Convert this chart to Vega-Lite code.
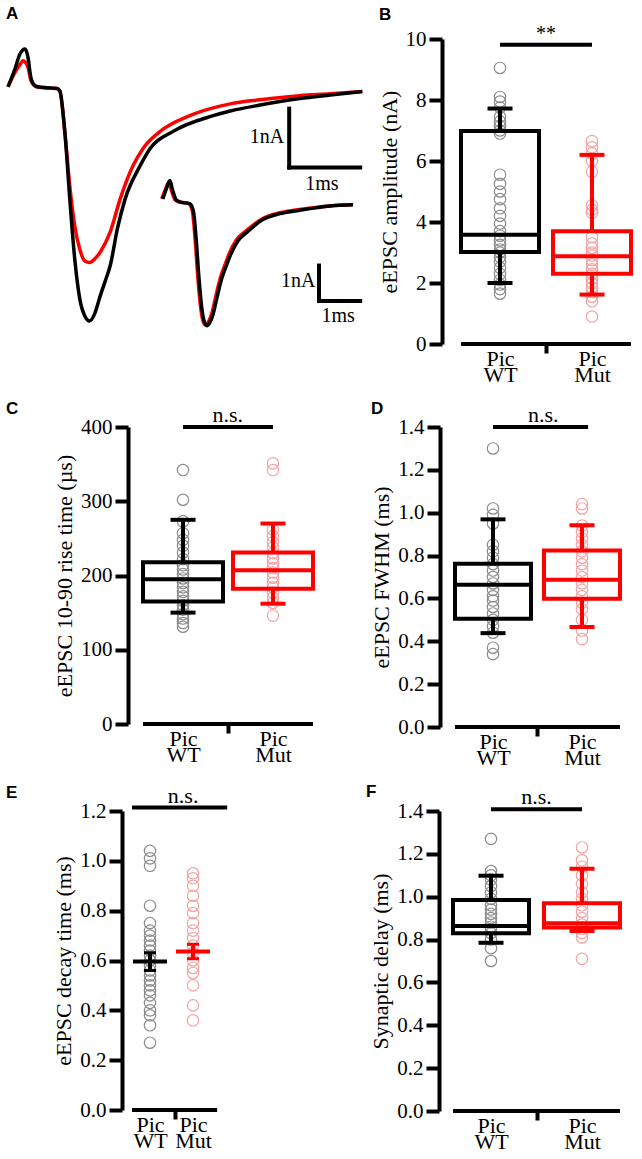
{
  "background": "white",
  "padding": {"left": 6, "top": 5, "right": 0, "bottom": 0},
  "config": {
    "view": {"stroke": null},
    "title": {"font": "Liberation Sans", "fontSize": 17, "fontWeight": "bold", "anchor": "start", "frame": "group", "color": "#000"},
    "axisY": {"domainColor": "#000", "domainWidth": 4, "tickColor": "#000", "tickWidth": 4, "tickSize": 13, "labelFont": "Liberation Serif", "labelFontSize": 21, "labelColor": "#000", "labelPadding": 3, "labelFlush": false, "labelOverlap": false, "titleFont": "Liberation Serif", "titleFontSize": 22, "titleFontWeight": "normal", "titleColor": "#000", "titlePadding": 4, "grid": false},
    "axisX": {"domain": false, "grid": false, "ticks": true, "tickSize": 9, "tickWidth": 4, "labelFont": "Liberation Serif", "labelFontSize": 22, "labelColor": "#000", "labelAngle": 0, "labelPadding": -5, "labelLineHeight": 16, "labelExpr": "split(datum.label, ' ')", "title": null}
  },
  "datasets": {
    "traces": [
      {"tr":"big","g":"WT","t":-1.69,"i":0},{"tr":"big","g":"WT","t":-1.59,"i":0.31},{"tr":"big","g":"WT","t":-1.52,"i":0.56},{"tr":"big","g":"WT","t":-1.45,"i":0.64},{"tr":"big","g":"WT","t":-1.41,"i":0.51},{"tr":"big","g":"WT","t":-1.37,"i":0.17},{"tr":"big","g":"WT","t":-1.32,"i":0.03},{"tr":"big","g":"WT","t":-1.27,"i":0},{"tr":"big","g":"WT","t":-1.0,"i":-0.03},{"tr":"big","g":"WT","t":-0.96,"i":-0.07},{"tr":"big","g":"WT","t":-0.89,"i":-0.76},{"tr":"big","g":"WT","t":-0.82,"i":-1.9},{"tr":"big","g":"WT","t":-0.75,"i":-2.92},{"tr":"big","g":"WT","t":-0.68,"i":-3.59},{"tr":"big","g":"WT","t":-0.61,"i":-3.88},{"tr":"big","g":"WT","t":-0.54,"i":-3.97},{"tr":"big","g":"WT","t":-0.47,"i":-3.85},{"tr":"big","g":"WT","t":-0.39,"i":-3.54},{"tr":"big","g":"WT","t":-0.32,"i":-3.29},{"tr":"big","g":"WT","t":-0.25,"i":-3.03},{"tr":"big","g":"WT","t":-0.15,"i":-2.41},{"tr":"big","g":"WT","t":-0.04,"i":-1.9},{"tr":"big","g":"WT","t":0.17,"i":-1.34},{"tr":"big","g":"WT","t":0.31,"i":-1.05},{"tr":"big","g":"WT","t":0.63,"i":-0.76},{"tr":"big","g":"WT","t":1.2,"i":-0.49},{"tr":"big","g":"WT","t":1.44,"i":-0.41},{"tr":"big","g":"WT","t":1.86,"i":-0.31},{"tr":"big","g":"WT","t":2.42,"i":-0.2},{"tr":"big","g":"WT","t":2.85,"i":-0.14},{"tr":"big","g":"WT","t":3.3,"i":-0.08},
      {"tr":"big","g":"Mut","t":-1.69,"i":0},{"tr":"big","g":"Mut","t":-1.59,"i":0.25},{"tr":"big","g":"Mut","t":-1.52,"i":0.38},{"tr":"big","g":"Mut","t":-1.48,"i":0.44},{"tr":"big","g":"Mut","t":-1.41,"i":0.34},{"tr":"big","g":"Mut","t":-1.37,"i":0.12},{"tr":"big","g":"Mut","t":-1.32,"i":0.02},{"tr":"big","g":"Mut","t":-1.27,"i":-0.01},{"tr":"big","g":"Mut","t":-1.0,"i":-0.03},{"tr":"big","g":"Mut","t":-0.96,"i":-0.07},{"tr":"big","g":"Mut","t":-0.89,"i":-0.76},{"tr":"big","g":"Mut","t":-0.82,"i":-1.68},{"tr":"big","g":"Mut","t":-0.75,"i":-2.36},{"tr":"big","g":"Mut","t":-0.68,"i":-2.75},{"tr":"big","g":"Mut","t":-0.61,"i":-2.95},{"tr":"big","g":"Mut","t":-0.54,"i":-2.98},{"tr":"big","g":"Mut","t":-0.47,"i":-2.92},{"tr":"big","g":"Mut","t":-0.39,"i":-2.8},{"tr":"big","g":"Mut","t":-0.25,"i":-2.46},{"tr":"big","g":"Mut","t":-0.11,"i":-1.9},{"tr":"big","g":"Mut","t":0.07,"i":-1.34},{"tr":"big","g":"Mut","t":0.21,"i":-1.05},{"tr":"big","g":"Mut","t":0.45,"i":-0.76},{"tr":"big","g":"Mut","t":0.87,"i":-0.49},{"tr":"big","g":"Mut","t":1.44,"i":-0.29},{"tr":"big","g":"Mut","t":1.86,"i":-0.22},{"tr":"big","g":"Mut","t":2.42,"i":-0.15},{"tr":"big","g":"Mut","t":2.85,"i":-0.12},{"tr":"big","g":"Mut","t":3.3,"i":-0.08},
      {"tr":"small","g":"WT","t":0.49,"i":-1.9},{"tr":"small","g":"WT","t":0.54,"i":-1.73},{"tr":"small","g":"WT","t":0.59,"i":-1.59},{"tr":"small","g":"WT","t":0.63,"i":-1.76},{"tr":"small","g":"WT","t":0.68,"i":-1.92},{"tr":"small","g":"WT","t":0.73,"i":-1.95},{"tr":"small","g":"WT","t":0.87,"i":-1.98},{"tr":"small","g":"WT","t":0.92,"i":-2.1},{"tr":"small","g":"WT","t":0.96,"i":-2.58},{"tr":"small","g":"WT","t":1.0,"i":-3.25},{"tr":"small","g":"WT","t":1.04,"i":-3.76},{"tr":"small","g":"WT","t":1.08,"i":-4.0},{"tr":"small","g":"WT","t":1.11,"i":-4.05},{"tr":"small","g":"WT","t":1.15,"i":-4.0},{"tr":"small","g":"WT","t":1.2,"i":-3.85},{"tr":"small","g":"WT","t":1.25,"i":-3.59},{"tr":"small","g":"WT","t":1.32,"i":-3.25},{"tr":"small","g":"WT","t":1.38,"i":-3.05},{"tr":"small","g":"WT","t":1.44,"i":-2.86},{"tr":"small","g":"WT","t":1.55,"i":-2.61},{"tr":"small","g":"WT","t":1.68,"i":-2.46},{"tr":"small","g":"WT","t":1.9,"i":-2.25},{"tr":"small","g":"WT","t":2.14,"i":-2.15},{"tr":"small","g":"WT","t":2.38,"i":-2.1},{"tr":"small","g":"WT","t":2.85,"i":-2.02},{"tr":"small","g":"WT","t":3.17,"i":-2.0},
      {"tr":"small","g":"Mut","t":0.475,"i":-1.9},{"tr":"small","g":"Mut","t":0.525,"i":-1.75},{"tr":"small","g":"Mut","t":0.575,"i":-1.62},{"tr":"small","g":"Mut","t":0.615,"i":-1.77},{"tr":"small","g":"Mut","t":0.665,"i":-1.92},{"tr":"small","g":"Mut","t":0.715,"i":-1.95},{"tr":"small","g":"Mut","t":0.855,"i":-1.98},{"tr":"small","g":"Mut","t":0.905,"i":-2.1},{"tr":"small","g":"Mut","t":0.945,"i":-2.58},{"tr":"small","g":"Mut","t":0.985,"i":-3.25},{"tr":"small","g":"Mut","t":1.025,"i":-3.76},{"tr":"small","g":"Mut","t":1.065,"i":-4.0},{"tr":"small","g":"Mut","t":1.095,"i":-4.04},{"tr":"small","g":"Mut","t":1.135,"i":-3.98},{"tr":"small","g":"Mut","t":1.185,"i":-3.82},{"tr":"small","g":"Mut","t":1.235,"i":-3.56},{"tr":"small","g":"Mut","t":1.305,"i":-3.22},{"tr":"small","g":"Mut","t":1.365,"i":-3.02},{"tr":"small","g":"Mut","t":1.425,"i":-2.83},{"tr":"small","g":"Mut","t":1.535,"i":-2.58},{"tr":"small","g":"Mut","t":1.665,"i":-2.44},{"tr":"small","g":"Mut","t":1.885,"i":-2.24},{"tr":"small","g":"Mut","t":2.125,"i":-2.14},{"tr":"small","g":"Mut","t":2.365,"i":-2.09},{"tr":"small","g":"Mut","t":2.835,"i":-2.02},{"tr":"small","g":"Mut","t":3.155,"i":-2.0}
    ],
    "scalebars": [
      {"t1":2.27,"t2":2.27,"i1":-0.37,"i2":-1.37},
      {"t1":2.27,"t2":3.27,"i1":-1.37,"i2":-1.37},
      {"t1":2.69,"t2":2.69,"i1":-3.03,"i2":-3.63},
      {"t1":2.69,"t2":3.27,"i1":-3.63,"i2":-3.63}
    ],
    "barlabels": [
      {"k":"nA","t":2.2,"i":-0.85,"label":"1nA"},
      {"k":"ms","t":2.73,"i":-1.64,"label":"1ms"},
      {"k":"nA","t":2.64,"i":-3.29,"label":"1nA"},
      {"k":"ms","t":2.96,"i":-3.88,"label":"1ms"}
    ],
    "points": [
      {"p":"B","g":"Pic WT","v":9.05},{"p":"B","g":"Pic WT","v":8.1},{"p":"B","g":"Pic WT","v":7.95},{"p":"B","g":"Pic WT","v":7.75},{"p":"B","g":"Pic WT","v":7.45},{"p":"B","g":"Pic WT","v":7.3},{"p":"B","g":"Pic WT","v":7.15},{"p":"B","g":"Pic WT","v":7.0},{"p":"B","g":"Pic WT","v":6.9},{"p":"B","g":"Pic WT","v":5.55},{"p":"B","g":"Pic WT","v":5.25},{"p":"B","g":"Pic WT","v":5.0},{"p":"B","g":"Pic WT","v":4.75},{"p":"B","g":"Pic WT","v":4.45},{"p":"B","g":"Pic WT","v":4.2},{"p":"B","g":"Pic WT","v":3.95},{"p":"B","g":"Pic WT","v":3.7},{"p":"B","g":"Pic WT","v":3.55},{"p":"B","g":"Pic WT","v":3.4},{"p":"B","g":"Pic WT","v":3.25},{"p":"B","g":"Pic WT","v":3.1},{"p":"B","g":"Pic WT","v":3.0},{"p":"B","g":"Pic WT","v":2.85},{"p":"B","g":"Pic WT","v":2.7},{"p":"B","g":"Pic WT","v":2.5},{"p":"B","g":"Pic WT","v":2.3},{"p":"B","g":"Pic WT","v":2.1},{"p":"B","g":"Pic WT","v":1.95},{"p":"B","g":"Pic WT","v":1.8},{"p":"B","g":"Pic WT","v":1.65},
      {"p":"B","g":"Pic Mut","v":6.65},{"p":"B","g":"Pic Mut","v":6.45},{"p":"B","g":"Pic Mut","v":6.25},{"p":"B","g":"Pic Mut","v":6.0},{"p":"B","g":"Pic Mut","v":5.65},{"p":"B","g":"Pic Mut","v":4.55},{"p":"B","g":"Pic Mut","v":4.4},{"p":"B","g":"Pic Mut","v":4.3},{"p":"B","g":"Pic Mut","v":3.5},{"p":"B","g":"Pic Mut","v":3.3},{"p":"B","g":"Pic Mut","v":3.15},{"p":"B","g":"Pic Mut","v":3.0},{"p":"B","g":"Pic Mut","v":2.9},{"p":"B","g":"Pic Mut","v":2.75},{"p":"B","g":"Pic Mut","v":2.6},{"p":"B","g":"Pic Mut","v":2.45},{"p":"B","g":"Pic Mut","v":2.3},{"p":"B","g":"Pic Mut","v":2.15},{"p":"B","g":"Pic Mut","v":2.0},{"p":"B","g":"Pic Mut","v":1.85},{"p":"B","g":"Pic Mut","v":1.7},{"p":"B","g":"Pic Mut","v":1.55},{"p":"B","g":"Pic Mut","v":1.4},{"p":"B","g":"Pic Mut","v":0.9},
      {"p":"C","g":"Pic WT","v":342},{"p":"C","g":"Pic WT","v":302},{"p":"C","g":"Pic WT","v":273},{"p":"C","g":"Pic WT","v":257},{"p":"C","g":"Pic WT","v":248},{"p":"C","g":"Pic WT","v":240},{"p":"C","g":"Pic WT","v":231},{"p":"C","g":"Pic WT","v":222},{"p":"C","g":"Pic WT","v":214},{"p":"C","g":"Pic WT","v":208},{"p":"C","g":"Pic WT","v":202},{"p":"C","g":"Pic WT","v":196},{"p":"C","g":"Pic WT","v":190},{"p":"C","g":"Pic WT","v":184},{"p":"C","g":"Pic WT","v":178},{"p":"C","g":"Pic WT","v":172},{"p":"C","g":"Pic WT","v":166},{"p":"C","g":"Pic WT","v":160},{"p":"C","g":"Pic WT","v":154},{"p":"C","g":"Pic WT","v":148},{"p":"C","g":"Pic WT","v":142},{"p":"C","g":"Pic WT","v":136},{"p":"C","g":"Pic WT","v":131},
      {"p":"C","g":"Pic Mut","v":351},{"p":"C","g":"Pic Mut","v":342},{"p":"C","g":"Pic Mut","v":262},{"p":"C","g":"Pic Mut","v":253},{"p":"C","g":"Pic Mut","v":245},{"p":"C","g":"Pic Mut","v":238},{"p":"C","g":"Pic Mut","v":230},{"p":"C","g":"Pic Mut","v":223},{"p":"C","g":"Pic Mut","v":216},{"p":"C","g":"Pic Mut","v":210},{"p":"C","g":"Pic Mut","v":204},{"p":"C","g":"Pic Mut","v":197},{"p":"C","g":"Pic Mut","v":190},{"p":"C","g":"Pic Mut","v":184},{"p":"C","g":"Pic Mut","v":177},{"p":"C","g":"Pic Mut","v":170},{"p":"C","g":"Pic Mut","v":163},{"p":"C","g":"Pic Mut","v":146},
      {"p":"D","g":"Pic WT","v":1.30},{"p":"D","g":"Pic WT","v":1.02},{"p":"D","g":"Pic WT","v":0.99},{"p":"D","g":"Pic WT","v":0.95},{"p":"D","g":"Pic WT","v":0.85},{"p":"D","g":"Pic WT","v":0.82},{"p":"D","g":"Pic WT","v":0.79},{"p":"D","g":"Pic WT","v":0.76},{"p":"D","g":"Pic WT","v":0.73},{"p":"D","g":"Pic WT","v":0.70},{"p":"D","g":"Pic WT","v":0.67},{"p":"D","g":"Pic WT","v":0.64},{"p":"D","g":"Pic WT","v":0.61},{"p":"D","g":"Pic WT","v":0.59},{"p":"D","g":"Pic WT","v":0.56},{"p":"D","g":"Pic WT","v":0.53},{"p":"D","g":"Pic WT","v":0.50},{"p":"D","g":"Pic WT","v":0.47},{"p":"D","g":"Pic WT","v":0.44},{"p":"D","g":"Pic WT","v":0.37},{"p":"D","g":"Pic WT","v":0.34},
      {"p":"D","g":"Pic Mut","v":1.04},{"p":"D","g":"Pic Mut","v":1.02},{"p":"D","g":"Pic Mut","v":0.94},{"p":"D","g":"Pic Mut","v":0.91},{"p":"D","g":"Pic Mut","v":0.88},{"p":"D","g":"Pic Mut","v":0.85},{"p":"D","g":"Pic Mut","v":0.82},{"p":"D","g":"Pic Mut","v":0.79},{"p":"D","g":"Pic Mut","v":0.76},{"p":"D","g":"Pic Mut","v":0.73},{"p":"D","g":"Pic Mut","v":0.70},{"p":"D","g":"Pic Mut","v":0.67},{"p":"D","g":"Pic Mut","v":0.64},{"p":"D","g":"Pic Mut","v":0.61},{"p":"D","g":"Pic Mut","v":0.58},{"p":"D","g":"Pic Mut","v":0.55},{"p":"D","g":"Pic Mut","v":0.50},{"p":"D","g":"Pic Mut","v":0.45},{"p":"D","g":"Pic Mut","v":0.41},
      {"p":"E","g":"Pic WT","v":1.04},{"p":"E","g":"Pic WT","v":1.01},{"p":"E","g":"Pic WT","v":0.98},{"p":"E","g":"Pic WT","v":0.82},{"p":"E","g":"Pic WT","v":0.75},{"p":"E","g":"Pic WT","v":0.72},{"p":"E","g":"Pic WT","v":0.70},{"p":"E","g":"Pic WT","v":0.68},{"p":"E","g":"Pic WT","v":0.66},{"p":"E","g":"Pic WT","v":0.64},{"p":"E","g":"Pic WT","v":0.62},{"p":"E","g":"Pic WT","v":0.60},{"p":"E","g":"Pic WT","v":0.58},{"p":"E","g":"Pic WT","v":0.56},{"p":"E","g":"Pic WT","v":0.54},{"p":"E","g":"Pic WT","v":0.52},{"p":"E","g":"Pic WT","v":0.50},{"p":"E","g":"Pic WT","v":0.48},{"p":"E","g":"Pic WT","v":0.46},{"p":"E","g":"Pic WT","v":0.43},{"p":"E","g":"Pic WT","v":0.40},{"p":"E","g":"Pic WT","v":0.38},{"p":"E","g":"Pic WT","v":0.34},{"p":"E","g":"Pic WT","v":0.27},
      {"p":"E","g":"Pic Mut","v":0.95},{"p":"E","g":"Pic Mut","v":0.93},{"p":"E","g":"Pic Mut","v":0.90},{"p":"E","g":"Pic Mut","v":0.86},{"p":"E","g":"Pic Mut","v":0.82},{"p":"E","g":"Pic Mut","v":0.79},{"p":"E","g":"Pic Mut","v":0.75},{"p":"E","g":"Pic Mut","v":0.72},{"p":"E","g":"Pic Mut","v":0.69},{"p":"E","g":"Pic Mut","v":0.66},{"p":"E","g":"Pic Mut","v":0.63},{"p":"E","g":"Pic Mut","v":0.60},{"p":"E","g":"Pic Mut","v":0.57},{"p":"E","g":"Pic Mut","v":0.55},{"p":"E","g":"Pic Mut","v":0.50},{"p":"E","g":"Pic Mut","v":0.42},{"p":"E","g":"Pic Mut","v":0.36},
      {"p":"F","g":"Pic WT","v":1.27},{"p":"F","g":"Pic WT","v":1.12},{"p":"F","g":"Pic WT","v":1.10},{"p":"F","g":"Pic WT","v":1.08},{"p":"F","g":"Pic WT","v":1.05},{"p":"F","g":"Pic WT","v":1.02},{"p":"F","g":"Pic WT","v":0.99},{"p":"F","g":"Pic WT","v":0.96},{"p":"F","g":"Pic WT","v":0.94},{"p":"F","g":"Pic WT","v":0.92},{"p":"F","g":"Pic WT","v":0.90},{"p":"F","g":"Pic WT","v":0.88},{"p":"F","g":"Pic WT","v":0.86},{"p":"F","g":"Pic WT","v":0.85},{"p":"F","g":"Pic WT","v":0.83},{"p":"F","g":"Pic WT","v":0.80},{"p":"F","g":"Pic WT","v":0.76},{"p":"F","g":"Pic WT","v":0.70},
      {"p":"F","g":"Pic Mut","v":1.23},{"p":"F","g":"Pic Mut","v":1.17},{"p":"F","g":"Pic Mut","v":1.14},{"p":"F","g":"Pic Mut","v":1.10},{"p":"F","g":"Pic Mut","v":1.06},{"p":"F","g":"Pic Mut","v":1.02},{"p":"F","g":"Pic Mut","v":0.99},{"p":"F","g":"Pic Mut","v":0.96},{"p":"F","g":"Pic Mut","v":0.93},{"p":"F","g":"Pic Mut","v":0.90},{"p":"F","g":"Pic Mut","v":0.87},{"p":"F","g":"Pic Mut","v":0.85},{"p":"F","g":"Pic Mut","v":0.83},{"p":"F","g":"Pic Mut","v":0.81},{"p":"F","g":"Pic Mut","v":0.71}
    ],
    "boxes": [
      {"p":"B","g":"Pic WT","lo":2.0,"q1":3.02,"med":3.58,"q3":6.98,"hi":7.72},
      {"p":"B","g":"Pic Mut","lo":1.62,"q1":2.3,"med":2.88,"q3":3.7,"hi":6.2},
      {"p":"C","g":"Pic WT","lo":150,"q1":165,"med":195,"q3":218,"hi":275},
      {"p":"C","g":"Pic Mut","lo":162,"q1":182,"med":207,"q3":231,"hi":270},
      {"p":"D","g":"Pic WT","lo":0.438,"q1":0.505,"med":0.664,"q3":0.762,"hi":0.969},
      {"p":"D","g":"Pic Mut","lo":0.467,"q1":0.599,"med":0.687,"q3":0.824,"hi":0.941},
      {"p":"F","g":"Pic WT","lo":0.785,"q1":0.829,"med":0.863,"q3":0.985,"hi":1.098},
      {"p":"F","g":"Pic Mut","lo":0.84,"q1":0.856,"med":0.876,"q3":0.97,"hi":1.13}
    ],
    "means": [
      {"g":"Pic WT","mean":0.596,"lo":0.56,"hi":0.631},
      {"g":"Pic Mut","mean":0.636,"lo":0.607,"hi":0.665}
    ],
    "sig": [
      {"p":"B","label":"**","y":9.81},
      {"p":"C","label":"n.s.","y":400},
      {"p":"D","label":"n.s.","y":1.40},
      {"p":"E","label":"n.s.","y":1.214},
      {"p":"F","label":"n.s.","y":1.408}
    ]
  },
  "spacing": 15,
  "vconcat": [
    {
      "spacing": 74,
      "bounds": "flush",
      "hconcat": [
        {
          "width": 240, "height": 305,
          "title": {"text": "A", "dx": -122, "offset": 16},
          "layer": [
            {"data": {"name": "traces"}, "transform": [{"filter": "datum.g=='Mut'"}],
             "mark": {"type": "line", "color": "#ff0000", "strokeWidth": 3.5, "interpolate": "monotone", "clip": false, "strokeJoin": "round"},
             "encoding": {"x": {"field": "t", "type": "quantitative", "scale": {"domain": [0, 3.38], "nice": false, "zero": false}, "axis": null},
                          "y": {"field": "i", "type": "quantitative", "scale": {"domain": [-4.36, 0.81], "nice": false, "zero": false}, "axis": null},
                          "detail": {"field": "tr", "type": "nominal"}}},
            {"data": {"name": "traces"}, "transform": [{"filter": "datum.g=='WT'"}],
             "mark": {"type": "line", "color": "#000000", "strokeWidth": 3.5, "interpolate": "monotone", "clip": false, "strokeJoin": "round"},
             "encoding": {"x": {"field": "t", "type": "quantitative", "scale": {"domain": [0, 3.38], "nice": false, "zero": false}, "axis": null},
                          "y": {"field": "i", "type": "quantitative", "scale": {"domain": [-4.36, 0.81], "nice": false, "zero": false}, "axis": null},
                          "detail": {"field": "tr", "type": "nominal"}}},
            {"data": {"name": "scalebars"},
             "mark": {"type": "rule", "color": "#000", "strokeWidth": 4, "strokeCap": "square"},
             "encoding": {"x": {"field": "t1", "type": "quantitative", "axis": null}, "x2": {"field": "t2"},
                          "y": {"field": "i1", "type": "quantitative", "axis": null}, "y2": {"field": "i2"}}},
            {"data": {"name": "barlabels"}, "transform": [{"filter": "datum.k=='nA'"}],
             "mark": {"type": "text", "align": "right", "baseline": "middle", "font": "Liberation Serif", "fontSize": 20, "color": "#000"},
             "encoding": {"x": {"field": "t", "type": "quantitative", "axis": null}, "y": {"field": "i", "type": "quantitative", "axis": null}, "text": {"field": "label"}}},
            {"data": {"name": "barlabels"}, "transform": [{"filter": "datum.k=='ms'"}],
             "mark": {"type": "text", "align": "center", "baseline": "middle", "font": "Liberation Serif", "fontSize": 20, "color": "#000"},
             "encoding": {"x": {"field": "t", "type": "quantitative", "axis": null}, "y": {"field": "i", "type": "quantitative", "axis": null}, "text": {"field": "label"}}}
          ]
        },
        {
          "width": 208, "height": 305,
          "title": {"text": "B", "dx": -63, "offset": 0},
          "encoding": {"x": {"field": "g", "type": "nominal", "title": null, "scale": {"domain": ["Pic WT", "Pic Mut"], "paddingInner": 0.152, "paddingOuter": 0.2065},
                             "axis": {"tickOffset": 46, "labelOffset": -46, "tickColor": {"condition": {"test": "datum.value=='Pic WT'", "value": "#000"}, "value": "transparent"}}}},
          "layer": [
            {"data": {"name": "points"}, "transform": [{"filter": "datum.p=='B'"}],
             "mark": {"type": "point", "shape": "circle", "filled": false, "size": 130, "strokeWidth": 1.2, "opacity": 1},
             "encoding": {"y": {"field": "v", "type": "quantitative", "title": "eEPSC amplitude (nA)", "scale": {"domain": [0, 10], "nice": false}, "axis": {"values": [0, 2, 4, 6, 8, 10]}},
                          "color": {"field": "g", "type": "nominal", "scale": {"domain": ["Pic WT", "Pic Mut"], "range": ["#8c8c8c", "#f5a3a3"]}, "legend": null}}},
            {"data": {"name": "boxes"}, "transform": [{"filter": "datum.p=='B'"}],
             "layer": [
               {"mark": {"type": "bar", "fill": "transparent", "strokeWidth": 4, "opacity": 1},
                "encoding": {"y": {"field": "q1", "type": "quantitative", "title": "eEPSC amplitude (nA)", "scale": {"domain": [0, 10], "nice": false}}, "y2": {"field": "q3"},
                             "stroke": {"field": "g", "type": "nominal", "scale": {"domain": ["Pic WT", "Pic Mut"], "range": ["#000000", "#ff0000"]}, "legend": null}}},
               {"mark": {"type": "rule", "strokeWidth": 4},
                "encoding": {"y": {"field": "lo", "type": "quantitative", "title": "eEPSC amplitude (nA)", "scale": {"domain": [0, 10], "nice": false}}, "y2": {"field": "q1"},
                             "stroke": {"field": "g", "type": "nominal", "scale": {"domain": ["Pic WT", "Pic Mut"], "range": ["#000000", "#ff0000"]}, "legend": null}}},
               {"mark": {"type": "rule", "strokeWidth": 4},
                "encoding": {"y": {"field": "q3", "type": "quantitative", "title": "eEPSC amplitude (nA)", "scale": {"domain": [0, 10], "nice": false}}, "y2": {"field": "hi"},
                             "stroke": {"field": "g", "type": "nominal", "scale": {"domain": ["Pic WT", "Pic Mut"], "range": ["#000000", "#ff0000"]}, "legend": null}}},
               {"mark": {"type": "tick", "size": 78, "thickness": 4, "opacity": 1},
                "encoding": {"y": {"field": "med", "type": "quantitative", "title": "eEPSC amplitude (nA)", "scale": {"domain": [0, 10], "nice": false}},
                             "fill": {"field": "g", "type": "nominal", "scale": {"domain": ["Pic WT", "Pic Mut"], "range": ["#000000", "#ff0000"]}, "legend": null}}},
               {"mark": {"type": "tick", "size": 25, "thickness": 4, "opacity": 1},
                "encoding": {"y": {"field": "lo", "type": "quantitative", "title": "eEPSC amplitude (nA)", "scale": {"domain": [0, 10], "nice": false}},
                             "fill": {"field": "g", "type": "nominal", "scale": {"domain": ["Pic WT", "Pic Mut"], "range": ["#000000", "#ff0000"]}, "legend": null}}},
               {"mark": {"type": "tick", "size": 25, "thickness": 4, "opacity": 1},
                "encoding": {"y": {"field": "hi", "type": "quantitative", "title": "eEPSC amplitude (nA)", "scale": {"domain": [0, 10], "nice": false}},
                             "fill": {"field": "g", "type": "nominal", "scale": {"domain": ["Pic WT", "Pic Mut"], "range": ["#000000", "#ff0000"]}, "legend": null}}}
             ]},
            {"data": {"name": "sig"}, "transform": [{"filter": "datum.p=='B'"}],
             "layer": [
               {"mark": {"type": "rule", "strokeWidth": 4, "color": "#000"},
                "encoding": {"x": {"datum": "Pic WT", "type": "nominal", "bandPosition": 0.5, "title": null}, "x2": {"datum": "Pic Mut", "bandPosition": 0.5},
                             "y": {"field": "y", "type": "quantitative", "title": "eEPSC amplitude (nA)", "scale": {"domain": [0, 10], "nice": false}}}},
               {"mark": {"type": "text", "font": "Liberation Serif", "fontSize": 20, "baseline": "alphabetic", "dy": -5, "color": "#000"},
                "encoding": {"x": {"datum": "Pic WT", "type": "nominal", "bandPosition": 1.09, "title": null},
                             "y": {"field": "y", "type": "quantitative", "title": "eEPSC amplitude (nA)", "scale": {"domain": [0, 10], "nice": false}}, "text": {"field": "label"}}},
               {"mark": {"type": "rule", "strokeWidth": 4, "color": "#000"},
                "encoding": {"x": {"datum": "Pic WT", "type": "nominal", "bandPosition": 0, "title": null}, "x2": {"datum": "Pic Mut", "bandPosition": 1},
                             "y": {"datum": 0, "type": "quantitative", "title": "eEPSC amplitude (nA)", "scale": {"domain": [0, 10], "nice": false}}}}
             ]}
          ]
        }
      ]
    },
    {
      "spacing": 114,
      "bounds": "flush",
      "hconcat": [
        {
          "width": 200, "height": 297,
          "title": {"text": "C", "dx": -122, "offset": -14},
          "encoding": {"x": {"field": "g", "type": "nominal", "title": null, "scale": {"domain": ["Pic WT", "Pic Mut"], "paddingInner": 0.111, "paddingOuter": 0.167},
                             "axis": {"tickOffset": 45, "labelOffset": -45, "tickColor": {"condition": {"test": "datum.value=='Pic WT'", "value": "#000"}, "value": "transparent"}}}},
          "layer": [
            {"data": {"name": "points"}, "transform": [{"filter": "datum.p=='C'"}],
             "mark": {"type": "point", "shape": "circle", "filled": false, "size": 130, "strokeWidth": 1.2, "opacity": 1},
             "encoding": {"y": {"field": "v", "type": "quantitative", "title": "eEPSC 10-90 rise time (µs)", "scale": {"domain": [0, 400], "nice": false}, "axis": {"values": [0, 100, 200, 300, 400]}},
                          "color": {"field": "g", "type": "nominal", "scale": {"domain": ["Pic WT", "Pic Mut"], "range": ["#8c8c8c", "#f5a3a3"]}, "legend": null}}},
            {"data": {"name": "boxes"}, "transform": [{"filter": "datum.p=='C'"}],
             "layer": [
               {"mark": {"type": "bar", "fill": "transparent", "strokeWidth": 4, "opacity": 1},
                "encoding": {"y": {"field": "q1", "type": "quantitative", "title": "eEPSC 10-90 rise time (µs)", "scale": {"domain": [0, 400], "nice": false}}, "y2": {"field": "q3"},
                             "stroke": {"field": "g", "type": "nominal", "scale": {"domain": ["Pic WT", "Pic Mut"], "range": ["#000000", "#ff0000"]}, "legend": null}}},
               {"mark": {"type": "rule", "strokeWidth": 4},
                "encoding": {"y": {"field": "lo", "type": "quantitative", "title": "eEPSC 10-90 rise time (µs)", "scale": {"domain": [0, 400], "nice": false}}, "y2": {"field": "q1"},
                             "stroke": {"field": "g", "type": "nominal", "scale": {"domain": ["Pic WT", "Pic Mut"], "range": ["#000000", "#ff0000"]}, "legend": null}}},
               {"mark": {"type": "rule", "strokeWidth": 4},
                "encoding": {"y": {"field": "q3", "type": "quantitative", "title": "eEPSC 10-90 rise time (µs)", "scale": {"domain": [0, 400], "nice": false}}, "y2": {"field": "hi"},
                             "stroke": {"field": "g", "type": "nominal", "scale": {"domain": ["Pic WT", "Pic Mut"], "range": ["#000000", "#ff0000"]}, "legend": null}}},
               {"mark": {"type": "tick", "size": 80, "thickness": 4, "opacity": 1},
                "encoding": {"y": {"field": "med", "type": "quantitative", "title": "eEPSC 10-90 rise time (µs)", "scale": {"domain": [0, 400], "nice": false}},
                             "fill": {"field": "g", "type": "nominal", "scale": {"domain": ["Pic WT", "Pic Mut"], "range": ["#000000", "#ff0000"]}, "legend": null}}},
               {"mark": {"type": "tick", "size": 25, "thickness": 4, "opacity": 1},
                "encoding": {"y": {"field": "lo", "type": "quantitative", "title": "eEPSC 10-90 rise time (µs)", "scale": {"domain": [0, 400], "nice": false}},
                             "fill": {"field": "g", "type": "nominal", "scale": {"domain": ["Pic WT", "Pic Mut"], "range": ["#000000", "#ff0000"]}, "legend": null}}},
               {"mark": {"type": "tick", "size": 25, "thickness": 4, "opacity": 1},
                "encoding": {"y": {"field": "hi", "type": "quantitative", "title": "eEPSC 10-90 rise time (µs)", "scale": {"domain": [0, 400], "nice": false}},
                             "fill": {"field": "g", "type": "nominal", "scale": {"domain": ["Pic WT", "Pic Mut"], "range": ["#000000", "#ff0000"]}, "legend": null}}}
             ]},
            {"data": {"name": "sig"}, "transform": [{"filter": "datum.p=='C'"}],
             "layer": [
               {"mark": {"type": "rule", "strokeWidth": 4, "color": "#000"},
                "encoding": {"x": {"datum": "Pic WT", "type": "nominal", "bandPosition": 0.5, "title": null}, "x2": {"datum": "Pic Mut", "bandPosition": 0.5},
                             "y": {"field": "y", "type": "quantitative", "title": "eEPSC 10-90 rise time (µs)", "scale": {"domain": [0, 400], "nice": false}}}},
               {"mark": {"type": "text", "font": "Liberation Serif", "fontSize": 22, "baseline": "alphabetic", "dy": -5, "color": "#000"},
                "encoding": {"x": {"datum": "Pic WT", "type": "nominal", "bandPosition": 1.06, "title": null},
                             "y": {"field": "y", "type": "quantitative", "title": "eEPSC 10-90 rise time (µs)", "scale": {"domain": [0, 400], "nice": false}}, "text": {"field": "label"}}},
               {"mark": {"type": "rule", "strokeWidth": 4, "color": "#000"},
                "encoding": {"x": {"datum": "Pic WT", "type": "nominal", "bandPosition": 0, "title": null}, "x2": {"datum": "Pic Mut", "bandPosition": 1},
                             "y": {"datum": 0, "type": "quantitative", "title": "eEPSC 10-90 rise time (µs)", "scale": {"domain": [0, 400], "nice": false}}}}
             ]}
          ]
        },
        {
          "width": 191, "height": 300,
          "title": {"text": "D", "dx": -71, "offset": -14},
          "encoding": {"x": {"field": "g", "type": "nominal", "title": null, "scale": {"domain": ["Pic WT", "Pic Mut"], "paddingInner": 0.146, "paddingOuter": 0.146},
                             "axis": {"tickOffset": 44.5, "labelOffset": -44.5, "tickColor": {"condition": {"test": "datum.value=='Pic WT'", "value": "#000"}, "value": "transparent"}}}},
          "layer": [
            {"data": {"name": "points"}, "transform": [{"filter": "datum.p=='D'"}],
             "mark": {"type": "point", "shape": "circle", "filled": false, "size": 130, "strokeWidth": 1.2, "opacity": 1},
             "encoding": {"y": {"field": "v", "type": "quantitative", "title": "eEPSC FWHM (ms)", "scale": {"domain": [0, 1.4], "nice": false}, "axis": {"values": [0, 0.2, 0.4, 0.6, 0.8, 1.0, 1.2, 1.4], "format": ".1f", "offset": 2}},
                          "color": {"field": "g", "type": "nominal", "scale": {"domain": ["Pic WT", "Pic Mut"], "range": ["#8c8c8c", "#f5a3a3"]}, "legend": null}}},
            {"data": {"name": "boxes"}, "transform": [{"filter": "datum.p=='D'"}],
             "layer": [
               {"mark": {"type": "bar", "fill": "transparent", "strokeWidth": 4, "opacity": 1},
                "encoding": {"y": {"field": "q1", "type": "quantitative", "title": "eEPSC FWHM (ms)", "scale": {"domain": [0, 1.4], "nice": false}}, "y2": {"field": "q3"},
                             "stroke": {"field": "g", "type": "nominal", "scale": {"domain": ["Pic WT", "Pic Mut"], "range": ["#000000", "#ff0000"]}, "legend": null}}},
               {"mark": {"type": "rule", "strokeWidth": 4},
                "encoding": {"y": {"field": "lo", "type": "quantitative", "title": "eEPSC FWHM (ms)", "scale": {"domain": [0, 1.4], "nice": false}}, "y2": {"field": "q1"},
                             "stroke": {"field": "g", "type": "nominal", "scale": {"domain": ["Pic WT", "Pic Mut"], "range": ["#000000", "#ff0000"]}, "legend": null}}},
               {"mark": {"type": "rule", "strokeWidth": 4},
                "encoding": {"y": {"field": "q3", "type": "quantitative", "title": "eEPSC FWHM (ms)", "scale": {"domain": [0, 1.4], "nice": false}}, "y2": {"field": "hi"},
                             "stroke": {"field": "g", "type": "nominal", "scale": {"domain": ["Pic WT", "Pic Mut"], "range": ["#000000", "#ff0000"]}, "legend": null}}},
               {"mark": {"type": "tick", "size": 76, "thickness": 4, "opacity": 1},
                "encoding": {"y": {"field": "med", "type": "quantitative", "title": "eEPSC FWHM (ms)", "scale": {"domain": [0, 1.4], "nice": false}},
                             "fill": {"field": "g", "type": "nominal", "scale": {"domain": ["Pic WT", "Pic Mut"], "range": ["#000000", "#ff0000"]}, "legend": null}}},
               {"mark": {"type": "tick", "size": 25, "thickness": 4, "opacity": 1},
                "encoding": {"y": {"field": "lo", "type": "quantitative", "title": "eEPSC FWHM (ms)", "scale": {"domain": [0, 1.4], "nice": false}},
                             "fill": {"field": "g", "type": "nominal", "scale": {"domain": ["Pic WT", "Pic Mut"], "range": ["#000000", "#ff0000"]}, "legend": null}}},
               {"mark": {"type": "tick", "size": 25, "thickness": 4, "opacity": 1},
                "encoding": {"y": {"field": "hi", "type": "quantitative", "title": "eEPSC FWHM (ms)", "scale": {"domain": [0, 1.4], "nice": false}},
                             "fill": {"field": "g", "type": "nominal", "scale": {"domain": ["Pic WT", "Pic Mut"], "range": ["#000000", "#ff0000"]}, "legend": null}}}
             ]},
            {"data": {"name": "sig"}, "transform": [{"filter": "datum.p=='D'"}],
             "layer": [
               {"mark": {"type": "rule", "strokeWidth": 4, "color": "#000"},
                "encoding": {"x": {"datum": "Pic WT", "type": "nominal", "bandPosition": 0.5, "title": null}, "x2": {"datum": "Pic Mut", "bandPosition": 0.58},
                             "y": {"field": "y", "type": "quantitative", "title": "eEPSC FWHM (ms)", "scale": {"domain": [0, 1.4], "nice": false}}}},
               {"mark": {"type": "text", "font": "Liberation Serif", "fontSize": 22, "baseline": "alphabetic", "dy": -5, "color": "#000"},
                "encoding": {"x": {"datum": "Pic WT", "type": "nominal", "bandPosition": 1.16, "title": null},
                             "y": {"field": "y", "type": "quantitative", "title": "eEPSC FWHM (ms)", "scale": {"domain": [0, 1.4], "nice": false}}, "text": {"field": "label"}}},
               {"mark": {"type": "rule", "strokeWidth": 4, "color": "#000"},
                "encoding": {"x": {"datum": "Pic WT", "type": "nominal", "bandPosition": 0, "title": null}, "x2": {"datum": "Pic Mut", "bandPosition": 1},
                             "y": {"datum": 0, "type": "quantitative", "title": "eEPSC FWHM (ms)", "scale": {"domain": [0, 1.4], "nice": false}}}}
             ]}
          ]
        }
      ]
    },
    {
      "spacing": 227,
      "bounds": "flush",
      "hconcat": [
        {
          "width": 87, "height": 299,
          "title": {"text": "E", "dx": -122, "offset": -17},
          "encoding": {"x": {"field": "g", "type": "nominal", "title": null, "scale": {"domain": ["Pic WT", "Pic Mut"], "paddingInner": 0.163, "paddingOuter": 0.093},
                             "axis": {"tickOffset": 25, "labelOffset": -25, "tickColor": {"condition": {"test": "datum.value=='Pic WT'", "value": "#000"}, "value": "transparent"}}}},
          "layer": [
            {"data": {"name": "points"}, "transform": [{"filter": "datum.p=='E'"}],
             "mark": {"type": "point", "shape": "circle", "filled": false, "size": 130, "strokeWidth": 1.2, "opacity": 1},
             "encoding": {"y": {"field": "v", "type": "quantitative", "title": "eEPSC decay time (ms)", "scale": {"domain": [0, 1.2], "nice": false}, "axis": {"values": [0, 0.2, 0.4, 0.6, 0.8, 1.0, 1.2], "format": ".1f", "offset": 6}},
                          "color": {"field": "g", "type": "nominal", "scale": {"domain": ["Pic WT", "Pic Mut"], "range": ["#8c8c8c", "#f5a3a3"]}, "legend": null}}},
            {"data": {"name": "means"},
             "layer": [
               {"mark": {"type": "rule", "strokeWidth": 4},
                "encoding": {"y": {"field": "lo", "type": "quantitative", "title": "eEPSC decay time (ms)", "scale": {"domain": [0, 1.2], "nice": false}}, "y2": {"field": "hi"},
                             "stroke": {"field": "g", "type": "nominal", "scale": {"domain": ["Pic WT", "Pic Mut"], "range": ["#000000", "#ff0000"]}, "legend": null}}},
               {"mark": {"type": "tick", "size": 34, "thickness": 4, "opacity": 1},
                "encoding": {"y": {"field": "mean", "type": "quantitative", "title": "eEPSC decay time (ms)", "scale": {"domain": [0, 1.2], "nice": false}},
                             "fill": {"field": "g", "type": "nominal", "scale": {"domain": ["Pic WT", "Pic Mut"], "range": ["#000000", "#ff0000"]}, "legend": null}}},
               {"mark": {"type": "tick", "size": 12, "thickness": 3, "opacity": 1},
                "encoding": {"y": {"field": "lo", "type": "quantitative", "title": "eEPSC decay time (ms)", "scale": {"domain": [0, 1.2], "nice": false}},
                             "fill": {"field": "g", "type": "nominal", "scale": {"domain": ["Pic WT", "Pic Mut"], "range": ["#000000", "#ff0000"]}, "legend": null}}},
               {"mark": {"type": "tick", "size": 12, "thickness": 3, "opacity": 1},
                "encoding": {"y": {"field": "hi", "type": "quantitative", "title": "eEPSC decay time (ms)", "scale": {"domain": [0, 1.2], "nice": false}},
                             "fill": {"field": "g", "type": "nominal", "scale": {"domain": ["Pic WT", "Pic Mut"], "range": ["#000000", "#ff0000"]}, "legend": null}}}
             ]},
            {"data": {"name": "sig"}, "transform": [{"filter": "datum.p=='E'"}],
             "layer": [
               {"mark": {"type": "rule", "strokeWidth": 4, "color": "#000"},
                "encoding": {"x": {"datum": "Pic WT", "type": "nominal", "bandPosition": 0, "title": null}, "x2": {"datum": "Pic Mut", "bandPosition": 1.45},
                             "y": {"field": "y", "type": "quantitative", "title": "eEPSC decay time (ms)", "scale": {"domain": [0, 1.2], "nice": false}}}},
               {"mark": {"type": "text", "font": "Liberation Serif", "fontSize": 22, "baseline": "alphabetic", "dy": -5, "color": "#000"},
                "encoding": {"x": {"datum": "Pic WT", "type": "nominal", "bandPosition": 1.42, "title": null},
                             "y": {"field": "y", "type": "quantitative", "title": "eEPSC decay time (ms)", "scale": {"domain": [0, 1.2], "nice": false}}, "text": {"field": "label"}}},
               {"mark": {"type": "rule", "strokeWidth": 4, "color": "#000"},
                "encoding": {"x": {"datum": "Pic WT", "type": "nominal", "bandPosition": 0, "title": null}, "x2": {"datum": "Pic Mut", "bandPosition": 1.17},
                             "y": {"datum": 0, "type": "quantitative", "title": "eEPSC decay time (ms)", "scale": {"domain": [0, 1.2], "nice": false}}}}
             ]}
          ]
        },
        {
          "width": 189, "height": 300,
          "title": {"text": "F", "dx": -76, "offset": -15},
          "encoding": {"x": {"field": "g", "type": "nominal", "title": null, "scale": {"domain": ["Pic WT", "Pic Mut"], "paddingInner": 0.165, "paddingOuter": 0.121},
                             "axis": {"tickOffset": 45.5, "labelOffset": -45.5, "tickColor": {"condition": {"test": "datum.value=='Pic WT'", "value": "#000"}, "value": "transparent"}}}},
          "layer": [
            {"data": {"name": "points"}, "transform": [{"filter": "datum.p=='F'"}],
             "mark": {"type": "point", "shape": "circle", "filled": false, "size": 130, "strokeWidth": 1.2, "opacity": 1},
             "encoding": {"y": {"field": "v", "type": "quantitative", "title": "Synaptic delay (ms)", "scale": {"domain": [0, 1.4], "nice": false}, "axis": {"values": [0, 0.2, 0.4, 0.6, 0.8, 1.0, 1.2, 1.4], "format": ".1f", "offset": 3}},
                          "color": {"field": "g", "type": "nominal", "scale": {"domain": ["Pic WT", "Pic Mut"], "range": ["#8c8c8c", "#f5a3a3"]}, "legend": null}}},
            {"data": {"name": "boxes"}, "transform": [{"filter": "datum.p=='F'"}],
             "layer": [
               {"mark": {"type": "bar", "fill": "transparent", "strokeWidth": 4, "opacity": 1},
                "encoding": {"y": {"field": "q1", "type": "quantitative", "title": "Synaptic delay (ms)", "scale": {"domain": [0, 1.4], "nice": false}}, "y2": {"field": "q3"},
                             "stroke": {"field": "g", "type": "nominal", "scale": {"domain": ["Pic WT", "Pic Mut"], "range": ["#000000", "#ff0000"]}, "legend": null}}},
               {"mark": {"type": "rule", "strokeWidth": 4},
                "encoding": {"y": {"field": "lo", "type": "quantitative", "title": "Synaptic delay (ms)", "scale": {"domain": [0, 1.4], "nice": false}}, "y2": {"field": "q1"},
                             "stroke": {"field": "g", "type": "nominal", "scale": {"domain": ["Pic WT", "Pic Mut"], "range": ["#000000", "#ff0000"]}, "legend": null}}},
               {"mark": {"type": "rule", "strokeWidth": 4},
                "encoding": {"y": {"field": "q3", "type": "quantitative", "title": "Synaptic delay (ms)", "scale": {"domain": [0, 1.4], "nice": false}}, "y2": {"field": "hi"},
                             "stroke": {"field": "g", "type": "nominal", "scale": {"domain": ["Pic WT", "Pic Mut"], "range": ["#000000", "#ff0000"]}, "legend": null}}},
               {"mark": {"type": "tick", "size": 76, "thickness": 4, "opacity": 1},
                "encoding": {"y": {"field": "med", "type": "quantitative", "title": "Synaptic delay (ms)", "scale": {"domain": [0, 1.4], "nice": false}},
                             "fill": {"field": "g", "type": "nominal", "scale": {"domain": ["Pic WT", "Pic Mut"], "range": ["#000000", "#ff0000"]}, "legend": null}}},
               {"mark": {"type": "tick", "size": 25, "thickness": 4, "opacity": 1},
                "encoding": {"y": {"field": "lo", "type": "quantitative", "title": "Synaptic delay (ms)", "scale": {"domain": [0, 1.4], "nice": false}},
                             "fill": {"field": "g", "type": "nominal", "scale": {"domain": ["Pic WT", "Pic Mut"], "range": ["#000000", "#ff0000"]}, "legend": null}}},
               {"mark": {"type": "tick", "size": 25, "thickness": 4, "opacity": 1},
                "encoding": {"y": {"field": "hi", "type": "quantitative", "title": "Synaptic delay (ms)", "scale": {"domain": [0, 1.4], "nice": false}},
                             "fill": {"field": "g", "type": "nominal", "scale": {"domain": ["Pic WT", "Pic Mut"], "range": ["#000000", "#ff0000"]}, "legend": null}}}
             ]},
            {"data": {"name": "sig"}, "transform": [{"filter": "datum.p=='F'"}],
             "layer": [
               {"mark": {"type": "rule", "strokeWidth": 4, "color": "#000"},
                "encoding": {"x": {"datum": "Pic WT", "type": "nominal", "bandPosition": 0.5, "title": null}, "x2": {"datum": "Pic Mut", "bandPosition": 0.5},
                             "y": {"field": "y", "type": "quantitative", "title": "Synaptic delay (ms)", "scale": {"domain": [0, 1.4], "nice": false}}}},
               {"mark": {"type": "text", "font": "Liberation Serif", "fontSize": 22, "baseline": "alphabetic", "dy": -5, "color": "#000"},
                "encoding": {"x": {"datum": "Pic WT", "type": "nominal", "bandPosition": 1.1, "title": null},
                             "y": {"field": "y", "type": "quantitative", "title": "Synaptic delay (ms)", "scale": {"domain": [0, 1.4], "nice": false}}, "text": {"field": "label"}}},
               {"mark": {"type": "rule", "strokeWidth": 4, "color": "#000"},
                "encoding": {"x": {"datum": "Pic WT", "type": "nominal", "bandPosition": 0, "title": null}, "x2": {"datum": "Pic Mut", "bandPosition": 1},
                             "y": {"datum": 0, "type": "quantitative", "title": "Synaptic delay (ms)", "scale": {"domain": [0, 1.4], "nice": false}}}}
             ]}
          ]
        }
      ]
    }
  ]
}
